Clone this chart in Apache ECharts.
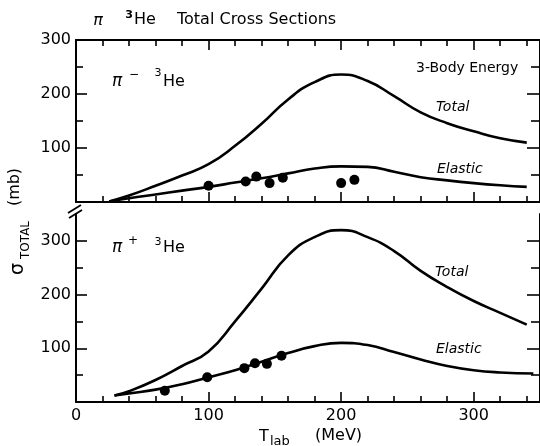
<!DOCTYPE html>
<html>
<head>
<meta charset="utf-8">
<script src="https://cdn.jsdelivr.net/npm/echarts@6/dist/echarts.min.js"></script>
<style>
  html, body { margin: 0; padding: 0; background: #fff; }
  #chart { width: 540px; height: 446px; }
</style>
</head>
<body>
<div id="chart"></div>
<script>
// pi- 3He : calculated total and elastic cross sections (mb) vs T_lab (MeV)
const minusTotalT   = [25, 40, 60, 80, 100, 120, 140, 160, 180, 200, 220, 240, 260, 280, 300, 320, 340];
const minusTotalV   = [1, 12, 30, 49, 70, 104, 145, 190, 222, 236, 224, 196, 166, 146, 131, 118, 110];
const minusElasticT = [25, 40, 60, 80, 100, 120, 140, 160, 180, 200, 220, 240, 260, 280, 300, 320, 340];
const minusElasticV = [1, 7, 14, 21, 28, 36, 44, 53, 62, 66, 65, 56, 46, 40, 35, 31, 28];
// pi- 3He measured elastic points
const minusDataT = [100, 128, 136, 146, 156, 200, 210];
const minusDataV = [30, 38, 47, 35, 45, 35, 41];

// pi+ 3He : calculated total and elastic cross sections (mb)
const plusTotalT   = [29, 40, 60, 80, 100, 120, 140, 160, 180, 200, 220, 240, 260, 280, 300, 320, 340];
const plusTotalV   = [12, 20, 41, 67, 94, 150, 211, 273, 307, 320, 307, 281, 244, 214, 188, 166, 144];
const plusElasticT = [29, 40, 60, 80, 100, 120, 140, 160, 180, 200, 220, 240, 260, 280, 300, 320, 345];
const plusElasticV = [12, 16, 23, 33, 46, 59, 75, 91, 104, 110, 106, 93, 79, 67, 59, 55, 53];
// pi+ 3He measured elastic points
const plusDataT = [67, 99, 127, 135, 144, 155];
const plusDataV = [21, 46, 63, 72, 71, 86];

// axis ticks
const xMajor = [0, 100, 200, 300];
const xMinor = [20, 40, 60, 80, 120, 140, 160, 180, 220, 240, 260, 280, 320, 340];
const yMajorTop = [100, 200];
const yLabelsTop = [100, 200, 300];
const yMajorBottom = [100, 200, 300];
const yMinor = [50, 150, 250];

const pairs = (xs, ys) => xs.map((x, i) => [x, ys[i]]);

const FONT = 'DejaVu Sans';
const INK = '#000';

function axisBase(grid, pos, min, max, ticks, len, showLine) {
  return {
    type: 'value', gridIndex: grid, position: pos, min: min, max: max,
    axisLine: { show: showLine, onZero: false, lineStyle: { color: INK, width: 2 } },
    axisTick: { show: true, inside: true, length: len, customValues: ticks, lineStyle: { color: INK, width: 1.6 } },
    axisLabel: { show: false },
    splitLine: { show: false }
  };
}
const xAx = (grid, pos, ticks, len, showLine) => axisBase(grid, pos, 0, 350, ticks, len, showLine);
const yAx = (grid, pos, max, ticks, len, showLine) => axisBase(grid, pos, 0, max, ticks, len, showLine);

const tickLabel = { show: true, color: INK, fontFamily: FONT, fontSize: 16 };
function withLabels(axis, values, margin) {
  axis.axisLabel = Object.assign({ customValues: values, margin: margin }, tickLabel);
  return axis;
}

const lineStyle = { color: INK, width: 2.6 };

const option = {
  backgroundColor: '#fff',
  animation: false,
  grid: [
    { left: 76, right: -3, top: 40, height: 162 },
    { left: 76, right: -3, top: 214, height: 188 }
  ],
  xAxis: [
    xAx(0, 'bottom', xMajor, 10, true),
    xAx(0, 'bottom', xMinor, 6, false),
    xAx(0, 'top', xMajor, 10, true),
    xAx(0, 'top', xMinor, 6, false),
    withLabels(xAx(1, 'bottom', xMajor, 10, true), xMajor, 6),
    xAx(1, 'bottom', xMinor, 6, false)
  ],
  yAxis: [
    withLabels(yAx(0, 'left', 300, yMajorTop, 11, true), yLabelsTop, 5),
    yAx(0, 'left', 300, yMinor, 7, false),
    yAx(0, 'right', 300, yMajorTop, 13, true),
    yAx(0, 'right', 300, yMinor, 9, false),
    withLabels(yAx(1, 'left', 350, yMajorBottom, 11, true), yMajorBottom, 5),
    yAx(1, 'left', 350, yMinor, 7, false),
    yAx(1, 'right', 350, yMajorBottom, 13, true),
    yAx(1, 'right', 350, yMinor, 9, false)
  ],
  series: [
    { type: 'line', xAxisIndex: 0, yAxisIndex: 0, data: pairs(minusTotalT, minusTotalV),
      smooth: 0.5, symbol: 'none', lineStyle: lineStyle },
    { type: 'line', xAxisIndex: 0, yAxisIndex: 0, data: pairs(minusElasticT, minusElasticV),
      smooth: 0.5, symbol: 'none', lineStyle: lineStyle },
    { type: 'scatter', xAxisIndex: 0, yAxisIndex: 0, data: pairs(minusDataT, minusDataV),
      symbol: 'circle', symbolSize: 10, itemStyle: { color: INK, opacity: 1 } },
    { type: 'line', xAxisIndex: 4, yAxisIndex: 4, data: pairs(plusTotalT, plusTotalV),
      smooth: 0.5, symbol: 'none', lineStyle: lineStyle },
    { type: 'line', xAxisIndex: 4, yAxisIndex: 4, data: pairs(plusElasticT, plusElasticV),
      smooth: 0.5, symbol: 'none', lineStyle: lineStyle },
    { type: 'scatter', xAxisIndex: 4, yAxisIndex: 4, data: pairs(plusDataT, plusDataV),
      symbol: 'circle', symbolSize: 10, itemStyle: { color: INK, opacity: 1 } }
  ],
  graphic: [
    // heading
    { type: 'text', x: 98, y: 21, style: { text: 'π', font: 'italic 16px ' + FONT, fill: INK, textAlign: 'center', textVerticalAlign: 'middle' } },
    { type: 'text', x: 129, y: 15, style: { text: '3', font: 'bold 11px ' + FONT, fill: INK, textAlign: 'center', textVerticalAlign: 'middle' } },
    { type: 'text', x: 134, y: 20, style: { text: 'He', font: '16px ' + FONT, fill: INK, textAlign: 'left', textVerticalAlign: 'middle' } },
    { type: 'text', x: 177, y: 20, style: { text: 'Total Cross Sections', font: '16px ' + FONT, fill: INK, textAlign: 'left', textVerticalAlign: 'middle' } },

    // panel labels
    { type: 'text', x: 117, y: 82, style: { text: 'π', font: 'italic 17px ' + FONT, fill: INK, textAlign: 'center', textVerticalAlign: 'middle' } },
    { type: 'text', x: 134, y: 75, style: { text: '−', font: '12px ' + FONT, fill: INK, textAlign: 'center', textVerticalAlign: 'middle' } },
    { type: 'text', x: 158, y: 73, style: { text: '3', font: '11px ' + FONT, fill: INK, textAlign: 'center', textVerticalAlign: 'middle' } },
    { type: 'text', x: 163, y: 82, style: { text: 'He', font: '16px ' + FONT, fill: INK, textAlign: 'left', textVerticalAlign: 'middle' } },

    { type: 'text', x: 117, y: 248, style: { text: 'π', font: 'italic 17px ' + FONT, fill: INK, textAlign: 'center', textVerticalAlign: 'middle' } },
    { type: 'text', x: 133, y: 241, style: { text: '+', font: '12px ' + FONT, fill: INK, textAlign: 'center', textVerticalAlign: 'middle' } },
    { type: 'text', x: 158, y: 242, style: { text: '3', font: '11px ' + FONT, fill: INK, textAlign: 'center', textVerticalAlign: 'middle' } },
    { type: 'text', x: 163, y: 248, style: { text: 'He', font: '16px ' + FONT, fill: INK, textAlign: 'left', textVerticalAlign: 'middle' } },

    // curve annotations
    { type: 'text', x: 416, y: 68, style: { text: '3-Body Energy', font: '14px ' + FONT, fill: INK, textAlign: 'left', textVerticalAlign: 'middle' } },
    { type: 'text', x: 436, y: 107, style: { text: 'Total', font: 'italic 14px ' + FONT, fill: INK, textAlign: 'left', textVerticalAlign: 'middle' } },
    { type: 'text', x: 437, y: 169, style: { text: 'Elastic', font: 'italic 14px ' + FONT, fill: INK, textAlign: 'left', textVerticalAlign: 'middle' } },
    { type: 'text', x: 435, y: 272, style: { text: 'Total', font: 'italic 14px ' + FONT, fill: INK, textAlign: 'left', textVerticalAlign: 'middle' } },
    { type: 'text', x: 436, y: 349, style: { text: 'Elastic', font: 'italic 14px ' + FONT, fill: INK, textAlign: 'left', textVerticalAlign: 'middle' } },

    // axis break on the vertical axis
    { type: 'line', shape: { x1: 68, y1: 213, x2: 81, y2: 205 }, style: { stroke: INK, lineWidth: 1.8 } },
    { type: 'line', shape: { x1: 69, y1: 218, x2: 82, y2: 210 }, style: { stroke: INK, lineWidth: 1.8 } },

    // y-axis title (rotated)
    { type: 'text', x: 18, y: 269, rotation: Math.PI / 2, style: { text: 'σ', font: '19px ' + FONT, fill: INK, textAlign: 'center', textVerticalAlign: 'middle' } },
    { type: 'text', x: 26, y: 240, rotation: Math.PI / 2, style: { text: 'TOTAL', font: '12px ' + FONT, fill: INK, textAlign: 'center', textVerticalAlign: 'middle' } },
    { type: 'text', x: 15, y: 187, rotation: Math.PI / 2, style: { text: '(mb)', font: '16px ' + FONT, fill: INK, textAlign: 'center', textVerticalAlign: 'middle' } },

    // x-axis title
    { type: 'text', x: 264, y: 437, style: { text: 'T', font: '16px ' + FONT, fill: INK, textAlign: 'center', textVerticalAlign: 'middle' } },
    { type: 'text', x: 270, y: 442, style: { text: 'lab', font: '13px ' + FONT, fill: INK, textAlign: 'left', textVerticalAlign: 'middle' } },
    { type: 'text', x: 315, y: 436, style: { text: '(MeV)', font: '16px ' + FONT, fill: INK, textAlign: 'left', textVerticalAlign: 'middle' } }
  ]
};

const chart = echarts.init(document.getElementById('chart'), null, { renderer: 'canvas' });
chart.setOption(option);
</script>
</body>
</html>
